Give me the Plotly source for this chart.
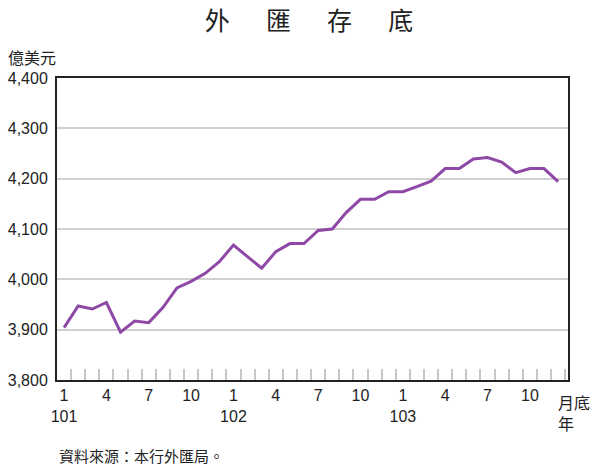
import plotly.graph_objects as go

years = ["101", "102", "103"]
months = list(range(1, 13))
reserves = [
    3904, 3947, 3941, 3954, 3895, 3917, 3914, 3944, 3983, 3996, 4012, 4035,
    4068, 4045, 4022, 4055, 4071, 4071, 4097, 4100, 4133, 4159, 4159, 4174,
    4174, 4184, 4195, 4220, 4220, 4239, 4242, 4233, 4212, 4220, 4220, 4194,
]
y_ticks = [3800, 3900, 4000, 4100, 4200, 4300, 4400]
label_months = [1, 4, 7, 10]

cats = [f"{y}-{m}" for y in years for m in months]
ticktext = []
for y in years:
    for m in months:
        if m == 1:
            ticktext.append(f"{m}<br>{y}")
        elif m in label_months:
            ticktext.append(str(m))
        else:
            ticktext.append("")

purple = "#8E48A6"
fnt = "Liberation Sans, Arial, Noto Sans CJK TC, sans-serif"
cjk = "Noto Sans CJK TC, sans-serif"

fig = go.Figure()
fig.add_trace(go.Scatter(
    x=cats, y=reserves, mode="lines",
    line=dict(color=purple, width=3), hoverinfo="skip", showlegend=False,
))

W, H = 590, 468
L, R, T, B = 57, 22, 78, 88
pw = W - L - R
ph = H - T - B

fig.update_layout(
    width=W, height=H,
    margin=dict(l=L, r=R, t=T, b=B, autoexpand=False),
    paper_bgcolor="white", plot_bgcolor="white",
    font=dict(family=fnt, size=16, color="#222"),
    title=dict(
        text="外\u3000&nbsp;&nbsp;匯\u3000&nbsp;&nbsp;存\u3000&nbsp;&nbsp;底",
        x=309 / W, xanchor="center", xref="container",
        y=1 - 21 / H, yanchor="middle", yref="container",
        font=dict(family=cjk, size=25, color="#222"),
    ),
    xaxis=dict(
        type="category", categoryorder="array", categoryarray=cats,
        tickvals=cats, ticktext=ticktext, tickson="boundaries",
        ticks="inside", ticklen=11, tickcolor="#c8c8c8", tickwidth=1.5,
        range=[-0.5, 35.7], automargin=False,
        showgrid=False, zeroline=False,
        showline=True, linecolor="#222", linewidth=2, mirror=True,
        tickfont=dict(family=fnt, size=16, color="#222"),
        tickangle=0,
    ),
    yaxis=dict(
        range=[3800, 4400], tickvals=y_ticks, automargin=False,
        ticktext=[f"{v:,}" for v in y_ticks],
        ticks="", showgrid=True, gridcolor="#d0d0d0", gridwidth=1.5,
        zeroline=False,
        showline=True, linecolor="#222", linewidth=2, mirror=True,
        tickfont=dict(family=fnt, size=16, color="#222"),
        ticklabelstandoff=4,
    ),
)

fig.add_annotation(
    text="月底<br>年", xref="paper", yref="paper",
    x=(556 - L) / pw, y=-(388 - (H - B)) / ph,
    xanchor="left", yanchor="top", align="left", showarrow=False,
    font=dict(family=cjk, size=16, color="#222"),
)
fig.add_annotation(
    text="億美元", xref="paper", yref="paper",
    x=(6 - L) / pw, y=((H - B) - 57) / ph,
    xanchor="left", yanchor="middle", showarrow=False,
    font=dict(family=cjk, size=16, color="#222"),
)
fig.add_annotation(
    text="資料來源：本行外匯局。", xref="paper", yref="paper",
    x=0, y=-(455 - (H - B)) / ph,
    xanchor="left", yanchor="middle", showarrow=False,
    font=dict(family=cjk, size=15, color="#222"),
)

fig.write_html("out.html")
